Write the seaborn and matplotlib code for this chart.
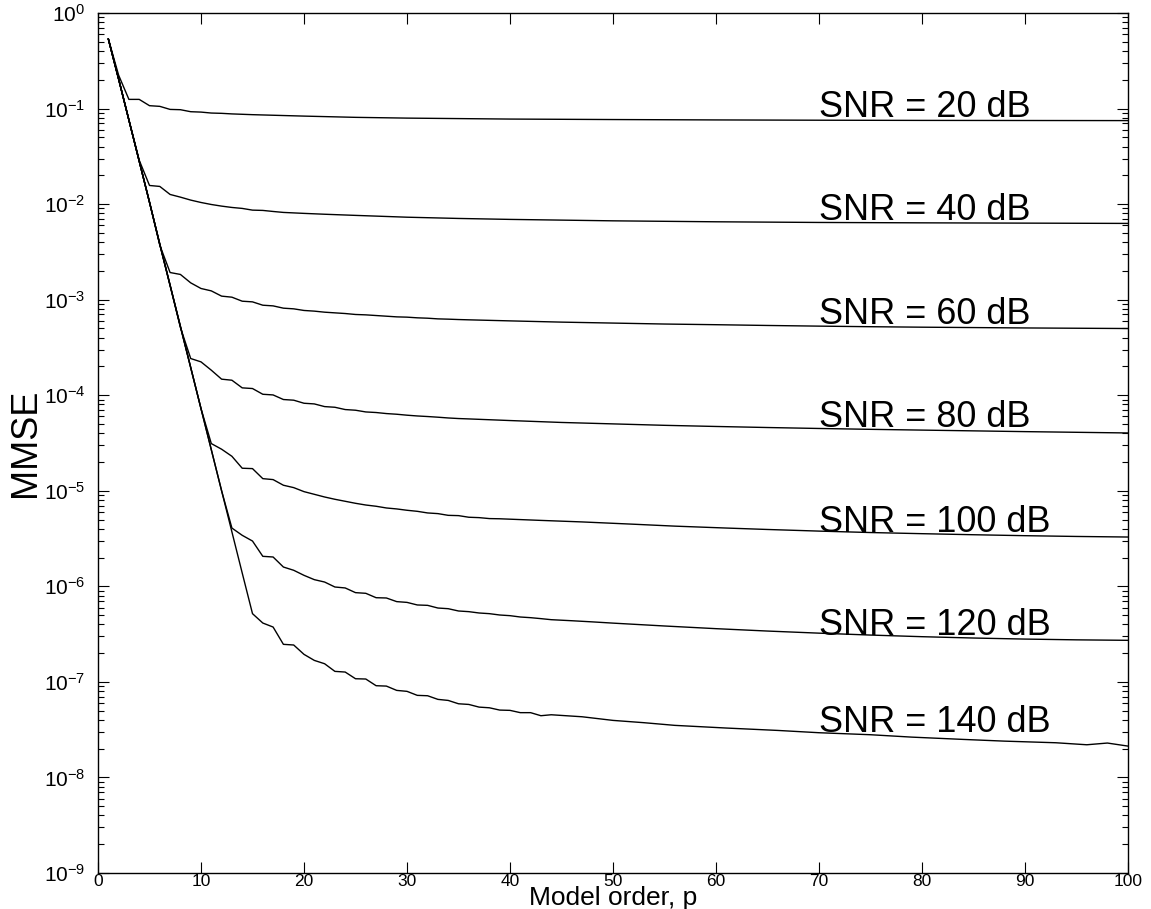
import numpy as np
import pandas as pd
import matplotlib
matplotlib.use("Agg")
import matplotlib.pyplot as plt
import seaborn as sns
from matplotlib.ticker import FixedLocator, NullLocator, LogFormatterSciNotation

# ---- data: log10(MMSE) (values are negative exponents) ----
snr_labels = ["SNR = 20 dB", "SNR = 40 dB", "SNR = 60 dB", "SNR = 80 dB",
              "SNR = 100 dB", "SNR = 120 dB", "SNR = 140 dB"]

p_20 = [1, 2, 3, 4, 5, 6, 7, 8, 9, 10, 11, 12, 13, 14, 15, 16, 18, 20, 25, 30,
        40, 50, 60, 70, 80, 90, 100]
e_20 = [0.27, 0.65, 0.904, 0.904, 0.970, 0.977, 1.009, 1.012, 1.033, 1.037,
        1.047, 1.050, 1.056, 1.060, 1.064, 1.067, 1.073, 1.079, 1.092, 1.100,
        1.110, 1.115, 1.119, 1.122, 1.124, 1.125, 1.126]

p_40 = list(range(1, 19)) + [20, 22, 25, 30, 35, 40, 50, 60, 70, 80, 90, 100]
e_40 = [0.27, 0.69, 1.12, 1.54, 1.805, 1.815, 1.899, 1.927, 1.958, 1.983,
        2.004, 2.021, 2.035, 2.045, 2.063, 2.066, 2.077, 2.087,
        2.097, 2.106, 2.118, 2.137, 2.150, 2.160, 2.175, 2.185, 2.192, 2.196,
        2.199, 2.202]

p_60 = list(range(1, 37)) + [40, 45, 50, 55, 60, 65, 70, 75, 80, 85, 90, 95, 100]
e_60 = [0.27, 0.69, 1.12, 1.55, 1.98, 2.43, 2.716, 2.736, 2.824, 2.883,
        2.908, 2.963, 2.974, 3.016, 3.023, 3.058, 3.065, 3.089, 3.096, 3.113,
        3.120, 3.131, 3.138, 3.145, 3.155, 3.159, 3.166, 3.173, 3.180, 3.183,
        3.190, 3.194, 3.201, 3.204, 3.208, 3.211,
        3.222, 3.235, 3.245, 3.255, 3.262, 3.270, 3.277, 3.283, 3.288, 3.292,
        3.296, 3.299, 3.302]

p_80 = list(range(1, 37)) + [40, 45, 50, 55, 60, 65, 70, 75, 80, 85, 90, 95, 100]
e_80 = [0.27, 0.69, 1.12, 1.55, 1.98, 2.42, 2.85, 3.29,
        3.616, 3.651, 3.738, 3.832, 3.843, 3.923, 3.930, 3.990, 3.997, 4.045,
        4.052, 4.084, 4.091, 4.119, 4.126, 4.150, 4.157, 4.175, 4.181, 4.192,
        4.199, 4.209, 4.217, 4.223, 4.230, 4.238, 4.244, 4.248,
        4.265, 4.285, 4.300, 4.315, 4.327, 4.338, 4.348, 4.357, 4.365, 4.373,
        4.381, 4.388, 4.395]

p_100 = list(range(1, 40)) + [43, 47, 52, 56, 61, 65, 70, 75, 80, 85, 90, 95, 100]
e_100 = [0.27, 0.69, 1.12, 1.55, 1.98, 2.42, 2.85, 3.28, 3.71, 4.14,
         4.506, 4.565, 4.639, 4.764, 4.768, 4.873, 4.883, 4.942, 4.967, 5.009,
         5.037, 5.065, 5.089, 5.110, 5.131, 5.149, 5.162, 5.180, 5.190, 5.204,
         5.215, 5.232, 5.239, 5.257, 5.260, 5.277, 5.281, 5.291, 5.293,
         5.310, 5.326, 5.350, 5.370, 5.390, 5.405, 5.422, 5.437, 5.449, 5.460,
         5.470, 5.478, 5.484]

p_120 = list(range(1, 45)) + [46, 48, 50, 55, 60, 65, 70, 75, 80, 85, 90, 95, 100]
e_120 = [0.27, 0.69, 1.12, 1.55, 1.98, 2.42, 2.85, 3.28, 3.71, 4.14, 4.57, 5.00,
         5.39, 5.466, 5.526, 5.686, 5.693, 5.798, 5.832, 5.885, 5.930, 5.955,
         6.007, 6.017, 6.066, 6.073, 6.119, 6.122, 6.160, 6.168, 6.195, 6.199,
         6.227, 6.234, 6.258, 6.265, 6.279, 6.286, 6.300, 6.307, 6.321, 6.328,
         6.338, 6.349,
         6.360, 6.372, 6.385, 6.415, 6.443, 6.468, 6.490, 6.510, 6.527, 6.541,
         6.552, 6.560, 6.565]

p_140 = list(range(1, 45)) + [47, 50, 53, 56, 61, 66, 70, 75, 79, 84, 88, 93, 96, 98, 100]
e_140 = [0.27, 0.69, 1.12, 1.55, 1.98, 2.42, 2.85, 3.28, 3.71, 4.14, 4.57, 5.00,
         5.43, 5.86,
         6.286, 6.384, 6.426, 6.607, 6.614, 6.712, 6.775, 6.810, 6.890, 6.897,
         6.967, 6.970, 7.040, 7.044, 7.089, 7.099, 7.141, 7.145, 7.183, 7.194,
         7.229, 7.236, 7.264, 7.271, 7.295, 7.298, 7.322, 7.322, 7.354, 7.344,
         7.365, 7.403, 7.427, 7.455, 7.483, 7.508, 7.532, 7.553, 7.578, 7.602,
         7.620, 7.637, 7.658, 7.640, 7.672]

# label anchor: x (model order) and log10 exponent of the text baseline
label_x = 70
label_e = [1.09, 2.17, 3.25, 4.335, 5.43, 6.51, 7.52]

x_ticks = [0, 10, 20, 30, 40, 50, 60, 70, 80, 90, 100]
y_decades = [-9, -8, -7, -6, -5, -4, -3, -2, -1, 0]

curves = [(p_20, e_20), (p_40, e_40), (p_60, e_60), (p_80, e_80),
          (p_100, e_100), (p_120, e_120), (p_140, e_140)]

frames = []
for lab, (pp, ee) in zip(snr_labels, curves):
    frames.append(pd.DataFrame({"p": pp, "mmse": 10.0 ** (-np.array(ee)),
                                "snr": lab}))
df = pd.concat(frames, ignore_index=True)

# ---- style ----
sns.set_style("white")
plt.rcParams["font.family"] = ["Liberation Sans", "DejaVu Sans"]
plt.rcParams["mathtext.fontset"] = "custom"
plt.rcParams["mathtext.rm"] = "Liberation Sans"
plt.rcParams["mathtext.it"] = "Liberation Sans:italic"
plt.rcParams["mathtext.bf"] = "Liberation Sans:bold"
plt.rcParams["text.color"] = "black"
plt.rcParams["axes.labelcolor"] = "black"
plt.rcParams["xtick.color"] = "black"
plt.rcParams["ytick.color"] = "black"

W, H = 1151, 909
fig = plt.figure(figsize=(W / 100, H / 100), dpi=100)
ax = fig.add_axes([98 / W, 1 - 873 / H, 1030 / W, 860 / H])

for lab in snr_labels:
    sub = df[df["snr"] == lab]
    sns.lineplot(data=sub, x="p", y="mmse", ax=ax, color="black",
                 linewidth=1.0, estimator=None, sort=False, legend=False)

ax.set_yscale("log")
ax.set_xlim(0, 100)
ax.set_ylim(1e-9, 1)
ax.xaxis.set_major_locator(FixedLocator(x_ticks))
ax.xaxis.set_minor_locator(NullLocator())
major_y = [10.0 ** k for k in y_decades]
minor_y = [m * 10.0 ** k for k in y_decades[:-1] for m in range(2, 10)]
ax.yaxis.set_major_locator(FixedLocator(major_y))
ax.yaxis.set_minor_locator(FixedLocator(minor_y))
ax.yaxis.set_major_formatter(LogFormatterSciNotation(base=10))

for s in ax.spines.values():
    s.set_visible(True)
    s.set_color("black")
    s.set_linewidth(1.0)

ax.tick_params(which="both", direction="in", top=True, right=True,
               bottom=True, left=True, colors="black", labelsize=15)
ax.tick_params(axis="x", labelsize=12.5)
ax.tick_params(which="major", length=8, width=0.8)
ax.tick_params(which="minor", length=4, width=0.8)
ax.tick_params(axis="x", pad=0.5)
ax.tick_params(axis="y", pad=9)

ax.xaxis.label.set_visible(False)
ax.yaxis.label.set_visible(False)
# axis titles placed in figure pixels so they stay inside the canvas
fig.text(613 / W, 1 - 905 / H, "Model order, p", fontsize=19,
         ha="center", va="baseline", color="black")
fig.text(26 / W, 1 - 443 / H, "MMSE", fontsize=26, rotation=90,
         ha="center", va="center", color="black")

for lab, le in zip(snr_labels, label_e):
    ax.text(label_x, 10.0 ** (-le), lab, fontsize=26, ha="left",
            va="baseline", color="black")

fig.savefig("out.png", dpi=100, facecolor="white")
